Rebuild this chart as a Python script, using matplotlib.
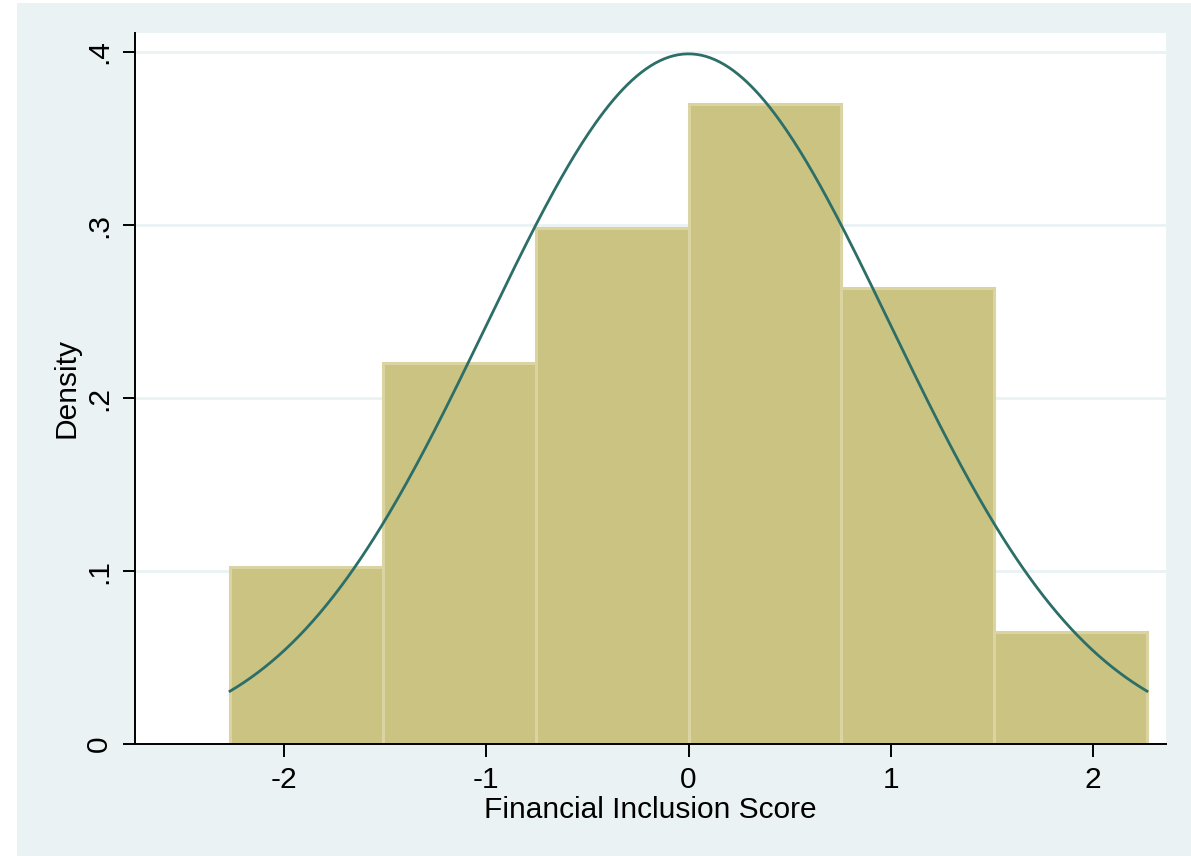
import numpy as np
import matplotlib
matplotlib.use("Agg")
import matplotlib.pyplot as plt
from matplotlib.patches import Rectangle

# histogram data
bin_edges = [-2.267, -1.511, -0.756, 0.0, 0.756, 1.511, 2.267]
densities = [0.1023, 0.2200, 0.2980, 0.3700, 0.2636, 0.0647]
curve_mean = 0.0
curve_sd = 1.0
x_ticks = [-2, -1, 0, 1, 2]
y_ticks = [0, 0.1, 0.2, 0.3, 0.4]
y_tick_labels = ["0", ".1", ".2", ".3", ".4"]

plt.rcParams['font.family'] = ['Liberation Sans', 'DejaVu Sans']

fig = plt.figure(figsize=(11.91, 8.56), dpi=100)
fig.patch.set_facecolor('white')
# stata-like graph region
fig.add_artist(Rectangle((17 / 1191, 0), 1, 853 / 856, transform=fig.transFigure,
                         facecolor='#EAF2F3', edgecolor='none', zorder=-5))

ax = fig.add_axes([135 / 1191, 112 / 856, 1031 / 1191, 711 / 856])
ax.set_zorder(2)
ax.set_facecolor('white')

widths = np.diff(bin_edges)
ax.bar(bin_edges[:-1], densities, width=widths, align='edge',
       color='#CBC382', edgecolor='#D9D4A2', linewidth=2.2, zorder=2)

xs = np.linspace(bin_edges[0], bin_edges[-1], 400)
ys = np.exp(-0.5 * ((xs - curve_mean) / curve_sd) ** 2) / (curve_sd * np.sqrt(2 * np.pi))
ax.plot(xs, ys, color='#2C6E68', linewidth=2.0, zorder=3)

ax.set_xlim(-2.737, 2.361)
ax.set_ylim(0, 0.411)

ax.set_xticks(x_ticks)
ax.set_xticklabels([str(t) for t in x_ticks])
ax.set_yticks(y_ticks)
ax.set_yticklabels(y_tick_labels, rotation=90, va='center')

for y in y_ticks[1:]:
    ax.axhline(y, color='#EAF2F3', linewidth=2, zorder=1)

for s in ['top', 'right']:
    ax.spines[s].set_visible(False)
for s in ['left', 'bottom']:
    ax.spines[s].set_linewidth(1.4)
    ax.spines[s].set_zorder(4)

ax.tick_params(axis='both', direction='out', length=9, width=1.4, labelsize=21.5, pad=7)

ax.set_xlabel('Financial Inclusion Score', fontsize=21.5, labelpad=1)
ax.set_ylabel('Density', fontsize=21.5, labelpad=3)

fig.savefig('out.png', dpi=100, facecolor=fig.get_facecolor())
